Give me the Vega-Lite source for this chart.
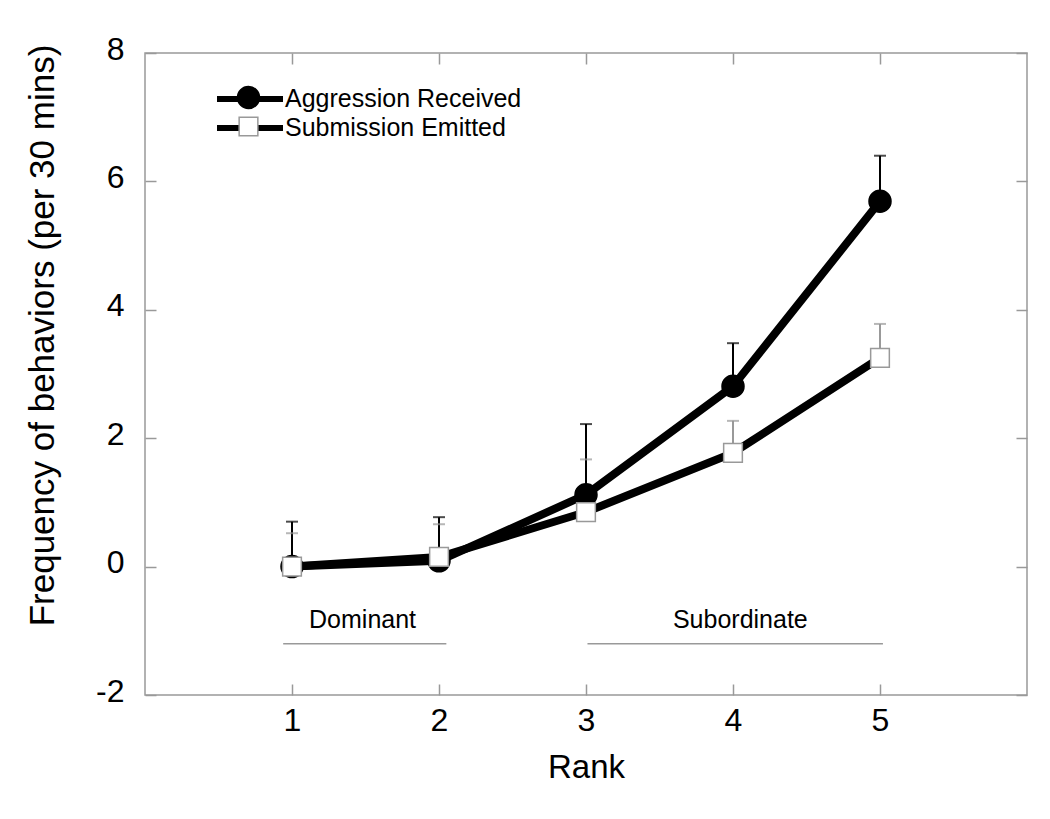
{
  "$schema": "https://vega.github.io/schema/vega-lite/v6.json",
  "width": 882,
  "height": 642,
  "autosize": {"type": "none"},
  "padding": {"left": 145, "top": 53, "right": 23, "bottom": 124},
  "background": "white",
  "config": {
    "font": "Liberation Sans",
    "view": {"stroke": "#999999", "strokeWidth": 1.5},
    "axis": {
      "grid": false,
      "domain": false,
      "tickColor": "#999999",
      "tickWidth": 1.5,
      "tickSize": -11,
      "labelFont": "Liberation Sans",
      "labelColor": "#000000",
      "titleFont": "Liberation Sans",
      "titleFontWeight": "normal",
      "titleColor": "#000000"
    },
    "legend": {
      "labelFont": "Liberation Sans",
      "labelFontSize": 25,
      "labelColor": "#000000",
      "labelLimit": 500,
      "padding": 0,
      "rowPadding": 2
    }
  },
  "datasets": {
    "behav": [
      {"rank": 1, "series": "Aggression Received", "mean": 0.0, "upper": 0.7},
      {"rank": 2, "series": "Aggression Received", "mean": 0.09, "upper": 0.77},
      {"rank": 3, "series": "Aggression Received", "mean": 1.12, "upper": 2.22},
      {"rank": 4, "series": "Aggression Received", "mean": 2.81, "upper": 3.48},
      {"rank": 5, "series": "Aggression Received", "mean": 5.69, "upper": 6.4},
      {"rank": 1, "series": "Submission Emitted", "mean": 0.0, "upper": 0.52},
      {"rank": 2, "series": "Submission Emitted", "mean": 0.15, "upper": 0.66},
      {"rank": 3, "series": "Submission Emitted", "mean": 0.85, "upper": 1.67},
      {"rank": 4, "series": "Submission Emitted", "mean": 1.77, "upper": 2.27},
      {"rank": 5, "series": "Submission Emitted", "mean": 3.25, "upper": 3.78}
    ],
    "groups": [
      {"group": "Dominant", "from": 0.94, "to": 2.05, "mid": 1.48},
      {"group": "Subordinate", "from": 3.01, "to": 5.02, "mid": 4.05}
    ]
  },
  "layer": [
    {
      "data": {"name": "behav"},
      "transform": [{"filter": "datum.series === 'Submission Emitted'"}],
      "mark": {"type": "rule", "strokeWidth": 2, "color": "#999999"},
      "encoding": {
        "x": {"field": "rank", "type": "quantitative", "scale": {"domain": [0, 6], "nice": false, "zero": false},
              "axis": {"orient": "bottom", "values": [1, 2, 3, 4, 5], "labelExpr": "toString(datum.value)", "labelFontSize": 32, "labelPadding": 21, "title": "Rank", "titleFontSize": 33, "titlePadding": 15}},
        "y": {"field": "mean", "type": "quantitative", "scale": {"domain": [-2, 8], "nice": false, "zero": false},
              "axis": {"orient": "left", "values": [-2, 0, 2, 4, 6, 8], "labelExpr": "toString(datum.value)", "labelFontSize": 32, "labelPadding": 32, "labelOffset": -4, "title": "Frequency of behaviors (per 30 mins)", "titleFontSize": 35, "titlePadding": 35, "titleY": 282}},
        "y2": {"field": "upper"}
      }
    },
    {
      "data": {"name": "behav"},
      "transform": [{"filter": "datum.series === 'Aggression Received'"}],
      "mark": {"type": "rule", "strokeWidth": 2, "color": "#000000"},
      "encoding": {
        "x": {"field": "rank", "type": "quantitative", "axis": null},
        "y": {"field": "mean", "type": "quantitative", "axis": null},
        "y2": {"field": "upper"}
      }
    },
    {
      "data": {"name": "behav"},
      "mark": {"type": "tick", "orient": "horizontal", "size": 12, "thickness": 2},
      "encoding": {
        "x": {"field": "rank", "type": "quantitative",
              "axis": {"orient": "top", "values": [1, 2, 3, 4, 5], "labels": false, "title": null}},
        "y": {"field": "upper", "type": "quantitative",
              "axis": {"orient": "right", "values": [-2, 0, 2, 4, 6, 8], "labels": false, "title": null}},
        "color": {"condition": {"test": "datum.series === 'Submission Emitted'", "value": "#999999"}, "value": "#000000"}
      }
    },
    {
      "data": {"name": "behav"},
      "mark": {"type": "line", "strokeWidth": 8, "strokeJoin": "round"},
      "encoding": {
        "x": {"field": "rank", "type": "quantitative", "axis": null},
        "y": {"field": "mean", "type": "quantitative", "axis": null},
        "color": {
          "field": "series", "type": "nominal",
          "scale": {"domain": ["Aggression Received", "Submission Emitted"], "range": ["#000000", "#000000"]},
          "legend": {
            "title": null, "orient": "none", "legendX": 91, "legendY": 32,
            "symbolType": "M-3,0H3", "symbolSize": 484, "symbolStrokeWidth": 6,
            "labelOffset": 21, "labelFontSize": 25
          }
        }
      }
    },
    {
      "data": {"name": "behav"},
      "mark": {"type": "point", "filled": true, "size": 484, "strokeWidth": 1.5, "opacity": 1},
      "encoding": {
        "x": {"field": "rank", "type": "quantitative", "axis": null},
        "y": {"field": "mean", "type": "quantitative", "axis": null},
        "shape": {
          "field": "series", "type": "nominal",
          "scale": {"range": ["M1,0A1,1 0 1,1 -1,0A1,1 0 1,1 1,0Z", "M-0.85,-0.85H0.85V0.85H-0.85Z"]},
          "legend": {
            "title": null, "orient": "none", "legendX": 91, "legendY": 32,
            "symbolSize": 484, "symbolStrokeWidth": 1.5, "labelOffset": 21, "labelFontSize": 25, "labelExpr": "''"
          }
        },
        "fill": {"field": "series", "type": "nominal", "scale": {"range": ["#000000", "#ffffff"]}, "legend": {"title": null, "orient": "none", "legendX": 91, "legendY": 32, "symbolSize": 484, "symbolStrokeWidth": 1.5, "labelOffset": 21, "labelFontSize": 25, "labelExpr": "''"}},
        "stroke": {"field": "series", "type": "nominal", "scale": {"range": ["#000000", "#999999"]}, "legend": {"title": null, "orient": "none", "legendX": 91, "legendY": 32, "symbolSize": 484, "symbolStrokeWidth": 1.5, "labelOffset": 21, "labelFontSize": 25, "labelExpr": "''"}},
        "order": {"field": "series", "type": "nominal"}
      }
    },
    {
      "data": {"name": "groups"},
      "mark": {"type": "rule", "strokeWidth": 1.5, "color": "#999999"},
      "encoding": {
        "x": {"field": "from", "type": "quantitative", "axis": null},
        "x2": {"field": "to"},
        "y": {"datum": -1.2, "type": "quantitative", "axis": null}
      }
    },
    {
      "data": {"name": "groups"},
      "mark": {"type": "text", "fontSize": 25, "font": "Liberation Sans", "color": "#000000", "baseline": "middle", "align": "center"},
      "encoding": {
        "x": {"field": "mid", "type": "quantitative", "axis": null},
        "y": {"datum": -0.83, "type": "quantitative", "axis": null},
        "text": {"field": "group"}
      }
    }
  ]
}
